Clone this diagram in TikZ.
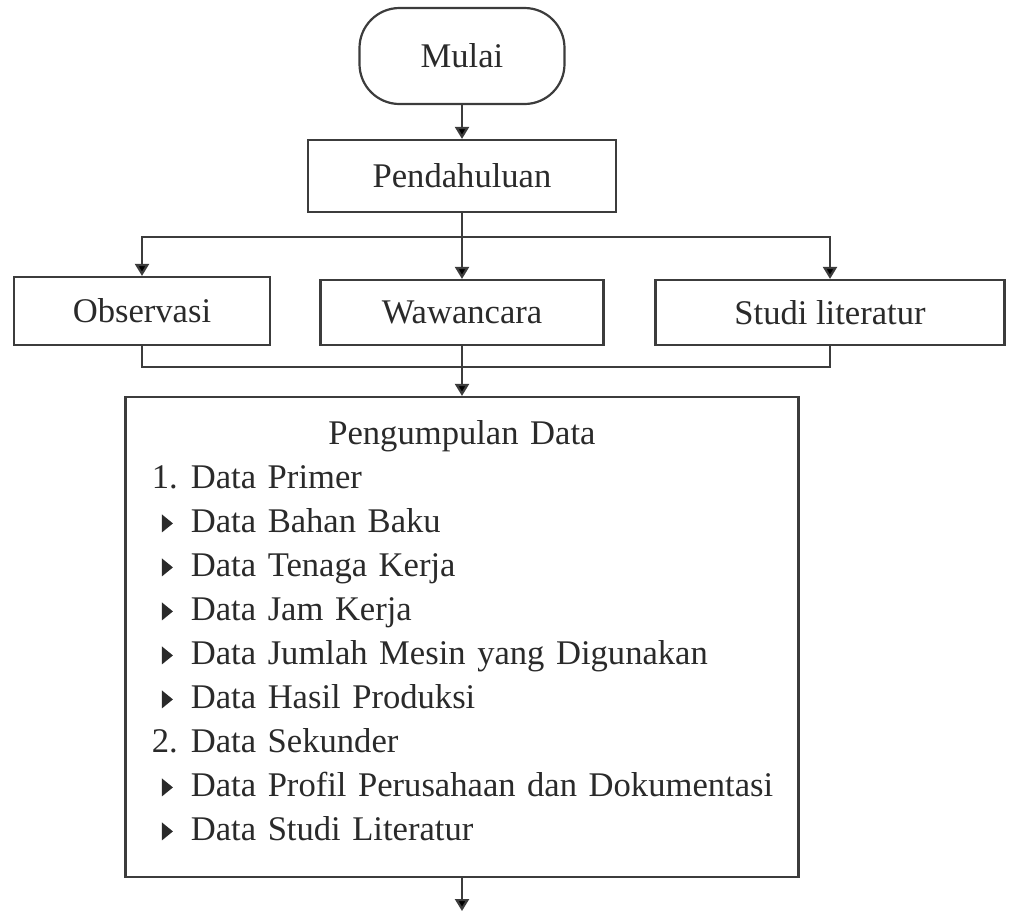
\documentclass[tikz,border=0pt]{standalone}
\usepackage{fontspec}
\setmainfont{Liberation Serif}
\usepackage{tikz}
\usetikzlibrary{arrows.meta}
\definecolor{garis}{HTML}{3c3c3c}
\definecolor{tulisan}{HTML}{2a2a2a}
\tikzset{%
    >={Triangle[length=6pt,width=7pt]}
}
\newcommand{\segitiga}{\tikz[baseline=0pt]\fill[tulisan] (0pt,0pt) -- (0pt,9pt) -- (5.5pt,4.5pt) -- cycle;}
\newcommand{\butir}[1]{\hspace*{18pt}\makebox[14.5pt][l]{\segitiga}#1}
\newcommand{\nomor}[2]{\hspace*{13pt}\makebox[19.5pt][l]{#1}#2}

\begin{document}
\begin{tikzpicture}[x=0.5pt, y=-0.5pt, line width=1.1pt, draw=garis,
  every node/.style={font=\fontsize{17.3}{22}\selectfont, text=tulisan},
  kotak/.style={draw=garis, rectangle, inner sep=0pt},
  isi/.style={text width=336pt, align=left, inner sep=0pt}]
  \useasboundingbox (0,0) rectangle (1010,911);

  \node[kotak, rounded corners=20pt, minimum width=102.5pt, minimum height=48pt] (mulai) at (462,56) {Mulai};
  \node[kotak, minimum width=154pt, minimum height=36pt] (pendahuluan) at (462,176) {Pendahuluan};

  \node[kotak, minimum width=128pt, minimum height=34pt] (observasi) at (142,311) {Observasi};
  \node[kotak, minimum width=141.5pt, minimum height=32.5pt] (wawancara) at (462,312.5) {Wawancara};
  \node[kotak, minimum width=174.5pt, minimum height=32.5pt] (studi) at (830,312.5) {Studi literatur};

  \node[kotak, minimum width=336.5pt, minimum height=240pt] (pengumpulan) at (462,637) {};
  \node[isi, anchor=north west] (daftar) at (125.5,420) {%
    \makebox[336pt]{Pengumpulan Data}\\
    \nomor{1.}{Data Primer}\\
    \butir{Data Bahan Baku}\\
    \butir{Data Tenaga Kerja}\\
    \butir{Data Jam Kerja}\\
    \butir{Data Jumlah Mesin yang Digunakan}\\
    \butir{Data Hasil Produksi}\\
    \nomor{2.}{Data Sekunder}\\
    \butir{Data Profil Perusahaan dan Dokumentasi}\\
    \butir{Data Studi Literatur}};

  \coordinate (cabang) at (462,237);
  \coordinate (gabung) at (462,367);
  \coordinate (lanjut) at (462,911);

  \draw[->] (mulai) -- (pendahuluan);
  \draw[->] (pendahuluan) -- (wawancara);
  \draw[->] (cabang) -| (observasi);
  \draw[->] (cabang) -| (studi);

  \draw (observasi) |- (gabung) -| (studi);
  \draw[->] (wawancara) -- (pengumpulan);
  \draw[->] (pengumpulan) -- (lanjut);
\end{tikzpicture}
\end{document}
